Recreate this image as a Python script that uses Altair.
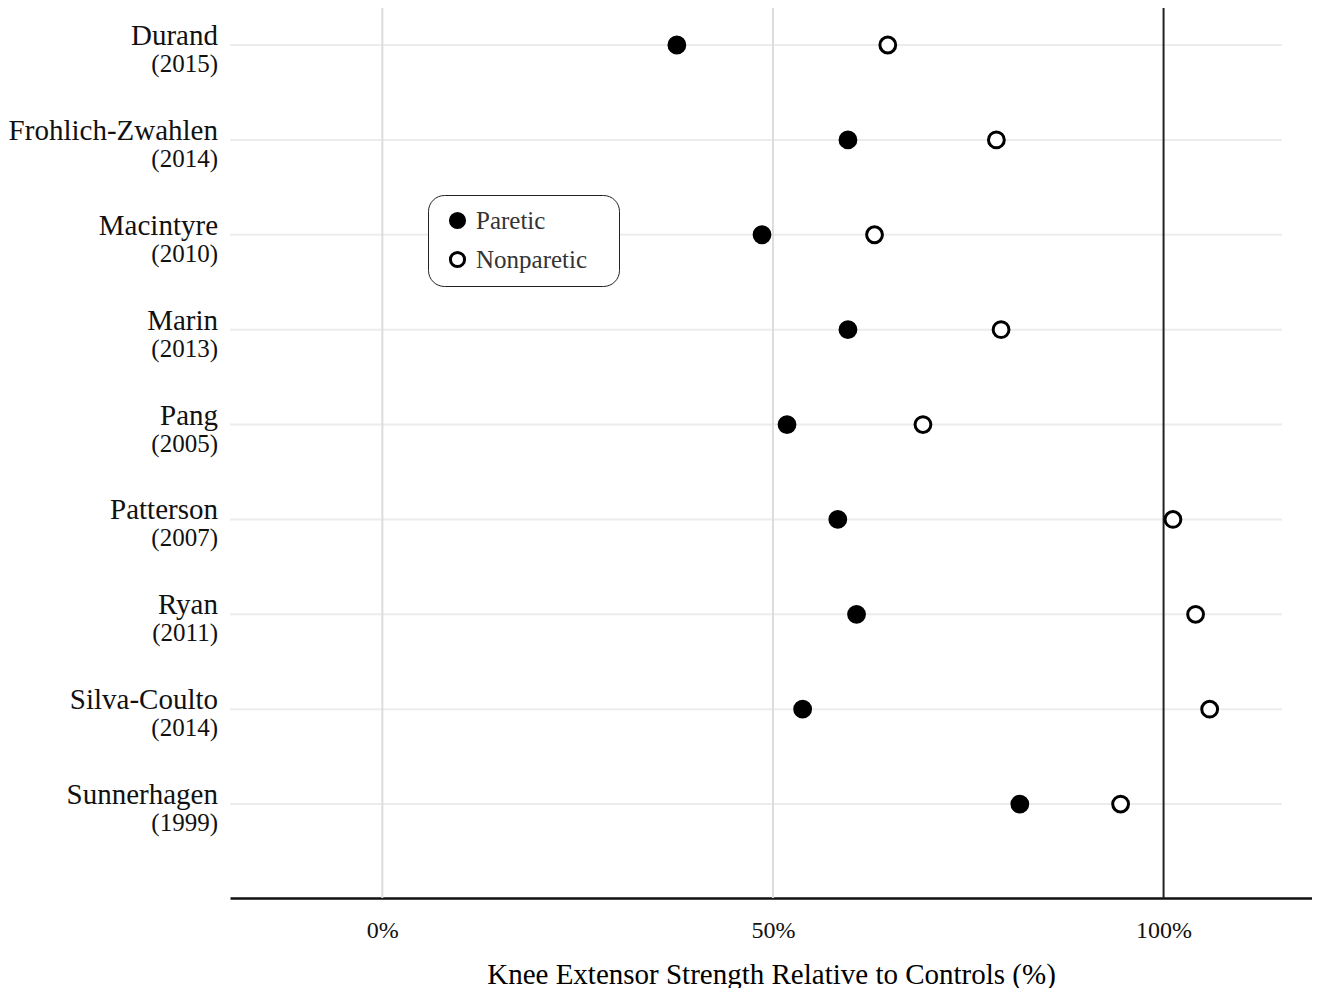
import altair as alt
import pandas as pd

studies = ["Durand", "Frohlich-Zwahlen", "Macintyre", "Marin", "Pang",
           "Patterson", "Ryan", "Silva-Coulto", "Sunnerhagen"]
years = ["2015", "2014", "2010", "2013", "2005", "2007", "2011", "2014", "1999"]
paretic = [37.7, 59.6, 48.6, 59.6, 51.8, 58.3, 60.7, 53.8, 81.6]
nonparetic = [64.7, 78.6, 63.0, 79.2, 69.2, 101.2, 104.1, 105.9, 94.5]
ref_lines = [0, 50]
control_line = [100]
x_ticks = [0, 50, 100]

FONT = "Liberation Serif"

rows = pd.DataFrame({
    "idx": list(range(len(studies))),
    "name": studies,
    "year": [f"({y})" for y in years],
})

pts = []
for i, s in enumerate(studies):
    pts.append({"idx": i, "study": s, "series": "Paretic", "value": paretic[i]})
    pts.append({"idx": i, "study": s, "series": "Nonparetic", "value": nonparetic[i]})
pts = pd.DataFrame(pts)

xscale = alt.Scale(domain=[-19.5, 119], nice=False, zero=False)
yscale = alt.Scale(domain=[-0.39, 8.99], reverse=True, nice=False, zero=False)

row_lines = alt.Chart(rows).mark_rule(color="#ececec", strokeWidth=2).encode(
    y=alt.Y("idx:Q", scale=yscale, axis=None),
    x=alt.value(0),
    x2=alt.value(1052),
)

vlines = alt.Chart(pd.DataFrame({"v": ref_lines})).mark_rule(
    color="#dcdcdc", strokeWidth=2
).encode(x=alt.X("v:Q", scale=xscale), y=alt.value(0), y2=alt.value(890))

cline = alt.Chart(pd.DataFrame({"v": control_line})).mark_rule(
    color="#222222", strokeWidth=2
).encode(x=alt.X("v:Q", scale=xscale), y=alt.value(0), y2=alt.value(890))

points = alt.Chart(pts).mark_circle(
    stroke="black", strokeWidth=3, size=250, opacity=1
).encode(
    x=alt.X(
        "value:Q",
        scale=xscale,
        axis=alt.Axis(
            title="Knee Extensor Strength Relative to Controls (%)",
            values=x_ticks,
            labelExpr="datum.value + '%'",
            grid=False,
            ticks=False,
            domainColor="#111111",
            domainWidth=2.5,
            labelFont=FONT,
            labelFontSize=24,
            labelColor="#111111",
            labelPadding=20,
            titleFont=FONT,
            titleFontSize=29,
            titleFontWeight="normal",
            titleColor="#000000",
            titlePadding=18,
        ),
    ),
    y=alt.Y("idx:Q", scale=yscale, axis=None),
    fill=alt.Fill(
        "series:N",
        scale=alt.Scale(domain=["Paretic", "Nonparetic"], range=["black", "white"]),
        legend=alt.Legend(
            title=None,
            orient="none",
            legendX=198,
            legendY=187,
            strokeColor="#222222",
            fillColor="white",
            cornerRadius=16,
            padding=13,
            symbolOffset=4,
            symbolType="circle",
            symbolSize=200,
            symbolStrokeColor="black",
            symbolStrokeWidth=3,
            labelFont=FONT,
            labelFontSize=25,
            labelColor="#333333",
            labelOffset=6,
            labelLimit=400,
            labelExpr="datum.label + '\u2800'",
            rowPadding=12,
        ),
    ),
)

names = alt.Chart(rows).mark_text(
    align="right", baseline="alphabetic", font=FONT, fontSize=29,
    color="#111111", dy=0,
).encode(
    y=alt.Y("idx:Q", scale=yscale, axis=None),
    x=alt.value(-12),
    text="name:N",
)

yrs = alt.Chart(rows).mark_text(
    align="right", baseline="alphabetic", font=FONT, fontSize=25,
    color="#111111", dy=27,
).encode(
    y=alt.Y("idx:Q", scale=yscale, axis=None),
    x=alt.value(-12),
    text="year:N",
)

chart = alt.layer(row_lines, vlines, cline, points, names, yrs).properties(
    width=1082, height=890,
    autosize=alt.AutoSizeParams(type="none"),
    padding={"left": 222, "top": 0, "right": 0, "bottom": 90},
).configure(
    background="white",
    view=alt.ViewConfig(stroke="transparent", strokeWidth=0),
)

chart.save("out.html", embed_options={"renderer": "svg", "actions": False})
